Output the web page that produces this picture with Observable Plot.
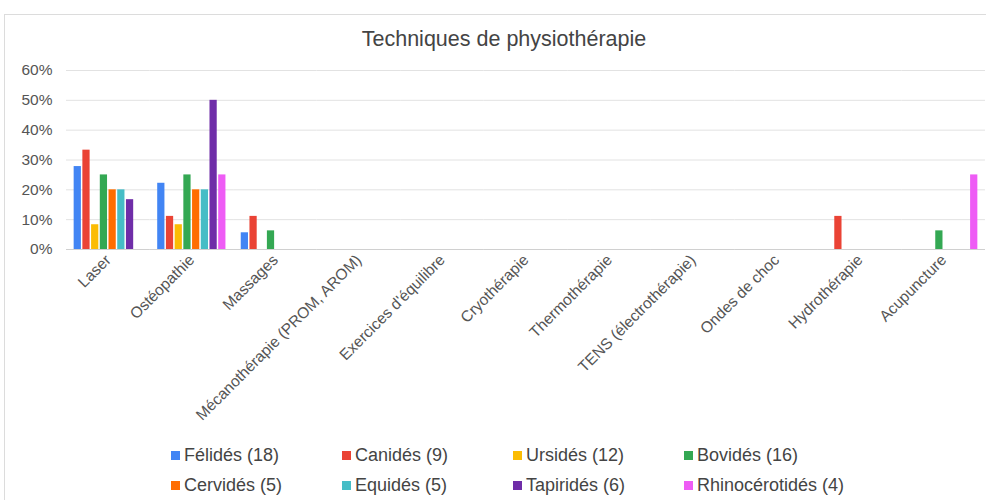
<!DOCTYPE html>
<html>
<head>
<meta charset="utf-8">
<script src="https://cdn.jsdelivr.net/npm/d3@7"></script>
<script src="https://cdn.jsdelivr.net/npm/@observablehq/plot@0.6"></script>
<style>
  html, body { margin: 0; padding: 0; background: #fff; overflow: hidden; }
  #wrap { position: relative; width: 986px; height: 500px; overflow: hidden; font-family: "Liberation Sans", Arial, sans-serif; }
  #frame { position: absolute; left: 4px; top: 14px; width: 1100px; height: 600px; border: 1px solid #dcdcdc; box-sizing: border-box; }
  #title { position: absolute; left: 0; top: 27px; width: 1008px; text-align: center; font-size: 21.5px; color: #444; }
  #chart { position: absolute; left: 0; top: 0; }
  .lg { position: absolute; font-size: 18px; color: #444; white-space: nowrap; line-height: 20px; }
  .lg span.sw { display: inline-block; width: 9px; height: 9px; margin-right: 4px; vertical-align: 1px; }
</style>
</head>
<body>
<div id="wrap">
  <div id="frame"></div>
  <div id="chart"></div>
  <div id="title">Techniques de physiothérapie</div>
</div>
<script>
const categories = ["Laser", "Ostéopathie", "Massages", "Mécanothérapie (PROM, AROM)", "Exercices d'équilibre", "Cryothérapie", "Thermothérapie", "TENS (électrothérapie)", "Ondes de choc", "Hydrothérapie", "Acupuncture"];
const series = ["Félidés (18)", "Canidés (9)", "Ursidés (12)", "Bovidés (16)", "Cervidés (5)", "Equidés (5)", "Tapiridés (6)", "Rhinocérotidés (4)"];
const colors = ["#4285f4", "#ea4335", "#fbbc04", "#34a853", "#ff6d01", "#46bdc6", "#6f2da8", "#ee5cf5"];
// values in percent, per series, in category order
const felides = [27.8, 22.2, 5.6, 0, 0, 0, 0, 0, 0, 0, 0];
const canides = [33.3, 11.1, 11.1, 0, 0, 0, 0, 0, 0, 11.1, 0];
const ursides = [8.3, 8.3, 0, 0, 0, 0, 0, 0, 0, 0, 0];
const bovides = [25, 25, 6.25, 0, 0, 0, 0, 0, 0, 0, 6.25];
const cervides = [20, 20, 0, 0, 0, 0, 0, 0, 0, 0, 0];
const equides = [20, 20, 0, 0, 0, 0, 0, 0, 0, 0, 0];
const tapirides = [16.7, 50, 0, 0, 0, 0, 0, 0, 0, 0, 0];
const rhinocerotides = [0, 25, 0, 0, 0, 0, 0, 0, 0, 0, 25];
const yTicks = [0, 10, 20, 30, 40, 50, 60];

const valueSets = [felides, canides, ursides, bovides, cervides, equides, tapirides, rhinocerotides];
const rows = [];
valueSets.forEach((vals, si) => {
  vals.forEach((v, ci) => rows.push({cat: categories[ci], series: series[si], value: v}));
});

const chart = Plot.plot({
  width: 986,
  height: 440,
  marginLeft: 66,
  marginRight: 1,
  marginTop: 70,
  marginBottom: 191,
  style: {fontFamily: "'Liberation Sans', Arial, sans-serif", background: "transparent", overflow: "visible"},
  fx: {domain: categories, padding: 0, round: false, label: null},
  x: {domain: series, paddingInner: 0.17, paddingOuter: 0.878, round: false, axis: null},
  y: {domain: [0, 60], label: null},
  color: {domain: series, range: colors},
  marks: [
    Plot.gridY(yTicks, {stroke: "#e2e2e2", strokeOpacity: 1}),
    Plot.ruleY([0], {stroke: "#d0d0d0"}),
    Plot.axisY(yTicks, {tickSize: 0, tickPadding: 14, tickFormat: d => d + "%", fontSize: 15.5, color: "#555", label: null}),
    Plot.axisFx({anchor: "bottom", tickRotate: -45, tickSize: 0, tickPadding: 8, fontSize: 15.5, color: "#555", label: null}),
    Plot.barY(rows, {fx: "cat", x: "series", y: "value", fill: "series"})
  ]
});
document.getElementById("chart").appendChild(chart);

// legend
const wrap = document.getElementById("wrap");
series.forEach((s, i) => {
  const col = i % 4, row = Math.floor(i / 4);
  const d = document.createElement("div");
  d.className = "lg";
  d.style.left = (171 + col * 171) + "px";
  d.style.top = (445 + row * 30) + "px";
  d.innerHTML = `<span class="sw" style="background:${colors[i]}"></span>${s}`;
  wrap.appendChild(d);
});
</script>
</body>
</html>
